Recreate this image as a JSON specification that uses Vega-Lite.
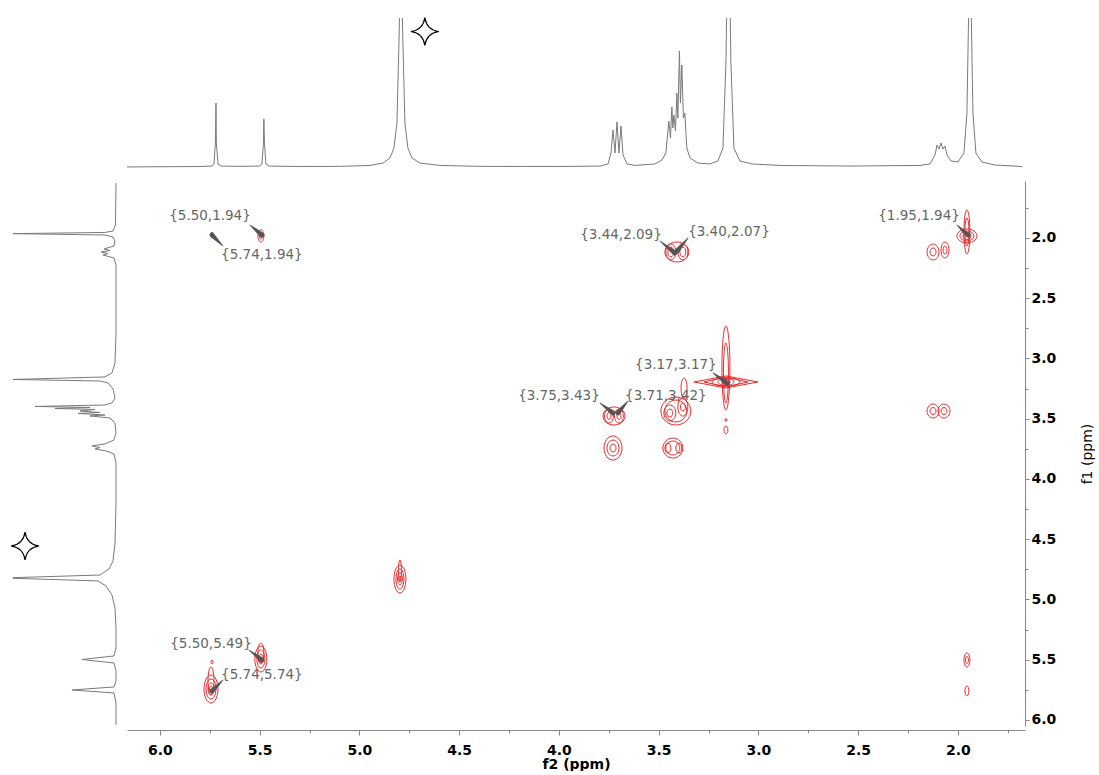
{
  "$schema": "https://vega.github.io/schema/vega-lite/v6.json",
  "background": "white",
  "padding": {"left": 0, "top": 15, "right": 0, "bottom": 0},
  "config": {"view": {"stroke": null}},
  "columns": 2,
  "align": "each",
  "bounds": "flush",
  "spacing": {"row": 13, "column": 10},
  "datasets": {
    "top1d": [
      {"f2": 6.176, "intensity": 0.7}, {"f2": 5.800, "intensity": 1.0},
      {"f2": 5.739, "intensity": 1.3}, {"f2": 5.729, "intensity": 2.7}, {"f2": 5.722, "intensity": 16.7}, {"f2": 5.719, "intensity": 43.3}, {"f2": 5.717, "intensity": 16.7}, {"f2": 5.709, "intensity": 2.7}, {"f2": 5.694, "intensity": 1.3},
      {"f2": 5.600, "intensity": 1.1},
      {"f2": 5.499, "intensity": 1.3}, {"f2": 5.489, "intensity": 2.7}, {"f2": 5.481, "intensity": 16.7}, {"f2": 5.479, "intensity": 32.7}, {"f2": 5.476, "intensity": 16.7}, {"f2": 5.469, "intensity": 2.7}, {"f2": 5.454, "intensity": 1.3},
      {"f2": 5.298, "intensity": 1.0}, {"f2": 5.098, "intensity": 1.1}, {"f2": 4.947, "intensity": 1.7}, {"f2": 4.882, "intensity": 3.3}, {"f2": 4.847, "intensity": 6.7}, {"f2": 4.827, "intensity": 13.3}, {"f2": 4.812, "intensity": 30}, {"f2": 4.802, "intensity": 83}, {"f2": 4.797, "intensity": 115}, {"f2": 4.787, "intensity": 115}, {"f2": 4.782, "intensity": 83}, {"f2": 4.772, "intensity": 30}, {"f2": 4.757, "intensity": 13.3}, {"f2": 4.737, "intensity": 6.7}, {"f2": 4.697, "intensity": 3.3}, {"f2": 4.597, "intensity": 1.7}, {"f2": 4.396, "intensity": 1.1}, {"f2": 3.995, "intensity": 1.0},
      {"f2": 3.794, "intensity": 1.3}, {"f2": 3.754, "intensity": 2.7}, {"f2": 3.739, "intensity": 10}, {"f2": 3.729, "intensity": 25.3}, {"f2": 3.719, "intensity": 10}, {"f2": 3.709, "intensity": 30.7}, {"f2": 3.699, "intensity": 10}, {"f2": 3.689, "intensity": 28}, {"f2": 3.679, "intensity": 8.7}, {"f2": 3.659, "intensity": 2.7}, {"f2": 3.619, "intensity": 1.7}, {"f2": 3.519, "intensity": 2.7},
      {"f2": 3.484, "intensity": 5.3}, {"f2": 3.464, "intensity": 10}, {"f2": 3.449, "intensity": 31.3}, {"f2": 3.441, "intensity": 20}, {"f2": 3.434, "intensity": 40.7}, {"f2": 3.429, "intensity": 26.7}, {"f2": 3.424, "intensity": 35.3}, {"f2": 3.416, "intensity": 24.7}, {"f2": 3.409, "intensity": 50}, {"f2": 3.404, "intensity": 33.3}, {"f2": 3.396, "intensity": 78}, {"f2": 3.391, "intensity": 43.3}, {"f2": 3.384, "intensity": 68.7}, {"f2": 3.376, "intensity": 33.3}, {"f2": 3.369, "intensity": 36.7}, {"f2": 3.359, "intensity": 13.3}, {"f2": 3.343, "intensity": 6.7}, {"f2": 3.303, "intensity": 3.3}, {"f2": 3.243, "intensity": 2.7}, {"f2": 3.203, "intensity": 4.7}, {"f2": 3.178, "intensity": 13.3}, {"f2": 3.163, "intensity": 70}, {"f2": 3.158, "intensity": 115}, {"f2": 3.143, "intensity": 115}, {"f2": 3.138, "intensity": 70}, {"f2": 3.123, "intensity": 13.3}, {"f2": 3.093, "intensity": 4.7}, {"f2": 3.033, "intensity": 2.7}, {"f2": 2.892, "intensity": 1.7}, {"f2": 2.541, "intensity": 1.3}, {"f2": 2.190, "intensity": 1.7},
      {"f2": 2.140, "intensity": 2.7}, {"f2": 2.115, "intensity": 8.7}, {"f2": 2.105, "intensity": 15.3}, {"f2": 2.095, "intensity": 12.7}, {"f2": 2.085, "intensity": 16.7}, {"f2": 2.075, "intensity": 12.7}, {"f2": 2.065, "intensity": 14.7}, {"f2": 2.055, "intensity": 8.7}, {"f2": 2.035, "intensity": 4.7}, {"f2": 2.000, "intensity": 4}, {"f2": 1.970, "intensity": 10}, {"f2": 1.955, "intensity": 36.7}, {"f2": 1.945, "intensity": 115}, {"f2": 1.935, "intensity": 115}, {"f2": 1.925, "intensity": 36.7}, {"f2": 1.910, "intensity": 10}, {"f2": 1.880, "intensity": 4}, {"f2": 1.815, "intensity": 2}, {"f2": 1.679, "intensity": 1}
    ],
    "left1d": [
      {"f1": 1.544, "intensity": 0.85}, {"f1": 1.892, "intensity": 1.3}, {"f1": 1.942, "intensity": 3.4}, {"f1": 1.954, "intensity": 10.3}, {"f1": 1.964, "intensity": 88.9}, {"f1": 1.975, "intensity": 10.3}, {"f1": 1.992, "intensity": 3.4}, {"f1": 2.025, "intensity": 1.7},
      {"f1": 2.066, "intensity": 2.6}, {"f1": 2.091, "intensity": 11.1}, {"f1": 2.104, "intensity": 6}, {"f1": 2.116, "intensity": 13.7}, {"f1": 2.129, "intensity": 7.7}, {"f1": 2.141, "intensity": 12}, {"f1": 2.166, "intensity": 2.6}, {"f1": 2.224, "intensity": 0.85},
      {"f1": 2.788, "intensity": 0.85}, {"f1": 3.037, "intensity": 1.7}, {"f1": 3.120, "intensity": 4.3}, {"f1": 3.153, "intensity": 10.3}, {"f1": 3.174, "intensity": 88.9}, {"f1": 3.187, "intensity": 14.5}, {"f1": 3.203, "intensity": 7.7}, {"f1": 3.253, "intensity": 3.4}, {"f1": 3.328, "intensity": 1.7},
      {"f1": 3.369, "intensity": 4.3}, {"f1": 3.386, "intensity": 10.3}, {"f1": 3.398, "intensity": 70}, {"f1": 3.407, "intensity": 23}, {"f1": 3.415, "intensity": 53}, {"f1": 3.423, "intensity": 18.8}, {"f1": 3.436, "intensity": 31.6}, {"f1": 3.448, "intensity": 14.5}, {"f1": 3.456, "intensity": 33.3}, {"f1": 3.469, "intensity": 10.3}, {"f1": 3.477, "intensity": 23}, {"f1": 3.494, "intensity": 6}, {"f1": 3.535, "intensity": 1.7},
      {"f1": 3.618, "intensity": 0.85}, {"f1": 3.676, "intensity": 2.6}, {"f1": 3.709, "intensity": 10.3}, {"f1": 3.726, "intensity": 21.4}, {"f1": 3.739, "intensity": 14.5}, {"f1": 3.751, "intensity": 18.8}, {"f1": 3.767, "intensity": 9.4}, {"f1": 3.792, "intensity": 2.6}, {"f1": 3.867, "intensity": 0.85},
      {"f1": 4.199, "intensity": 0.85}, {"f1": 4.531, "intensity": 1.7}, {"f1": 4.680, "intensity": 3.4}, {"f1": 4.747, "intensity": 6.8}, {"f1": 4.797, "intensity": 14.5}, {"f1": 4.819, "intensity": 88.9}, {"f1": 4.824, "intensity": 88.9}, {"f1": 4.846, "intensity": 16.2}, {"f1": 4.888, "intensity": 9.4}, {"f1": 4.963, "intensity": 4.3}, {"f1": 5.071, "intensity": 1.7}, {"f1": 5.236, "intensity": 0.85},
      {"f1": 5.402, "intensity": 0.85}, {"f1": 5.469, "intensity": 2.6}, {"f1": 5.498, "intensity": 30}, {"f1": 5.527, "intensity": 2.6}, {"f1": 5.593, "intensity": 0.85},
      {"f1": 5.676, "intensity": 0.85}, {"f1": 5.726, "intensity": 2.6}, {"f1": 5.751, "intensity": 38.5}, {"f1": 5.776, "intensity": 2.6}, {"f1": 5.859, "intensity": 0.85}, {"f1": 6.041, "intensity": 0.85}
    ],
    "contours": [
      {"ring": "r1a", "v": 0, "f2": 5.744, "f1": 5.627}, {"ring": "r1a", "v": 1, "f2": 5.709, "f1": 5.743}, {"ring": "r1a", "v": 2, "f2": 5.744, "f1": 5.859}, {"ring": "r1a", "v": 3, "f2": 5.779, "f1": 5.743},
      {"ring": "r1b", "v": 0, "f2": 5.744, "f1": 5.660}, {"ring": "r1b", "v": 1, "f2": 5.719, "f1": 5.743}, {"ring": "r1b", "v": 2, "f2": 5.744, "f1": 5.826}, {"ring": "r1b", "v": 3, "f2": 5.769, "f1": 5.743},
      {"ring": "r1c", "v": 0, "f2": 5.744, "f1": 5.693}, {"ring": "r1c", "v": 1, "f2": 5.729, "f1": 5.743}, {"ring": "r1c", "v": 2, "f2": 5.744, "f1": 5.793}, {"ring": "r1c", "v": 3, "f2": 5.759, "f1": 5.743},
      {"ring": "r1d", "v": 0, "f2": 5.744, "f1": 5.718}, {"ring": "r1d", "v": 1, "f2": 5.7365, "f1": 5.743}, {"ring": "r1d", "v": 2, "f2": 5.744, "f1": 5.768}, {"ring": "r1d", "v": 3, "f2": 5.7515, "f1": 5.743},
      {"ring": "r1t", "v": 0, "f2": 5.744, "f1": 5.560}, {"ring": "r1t", "v": 1, "f2": 5.729, "f1": 5.676}, {"ring": "r1t", "v": 2, "f2": 5.744, "f1": 5.792}, {"ring": "r1t", "v": 3, "f2": 5.759, "f1": 5.676},
      {"ring": "r1s", "v": 0, "f2": 5.739, "f1": 5.502}, {"ring": "r1s", "v": 1, "f2": 5.734, "f1": 5.519}, {"ring": "r1s", "v": 2, "f2": 5.739, "f1": 5.536}, {"ring": "r1s", "v": 3, "f2": 5.744, "f1": 5.519},
      {"ring": "r2a", "v": 0, "f2": 5.494, "f1": 5.386}, {"ring": "r2a", "v": 1, "f2": 5.464, "f1": 5.494}, {"ring": "r2a", "v": 2, "f2": 5.494, "f1": 5.602}, {"ring": "r2a", "v": 3, "f2": 5.524, "f1": 5.494},
      {"ring": "r2b", "v": 0, "f2": 5.494, "f1": 5.419}, {"ring": "r2b", "v": 1, "f2": 5.474, "f1": 5.494}, {"ring": "r2b", "v": 2, "f2": 5.494, "f1": 5.569}, {"ring": "r2b", "v": 3, "f2": 5.514, "f1": 5.494},
      {"ring": "r2c", "v": 0, "f2": 5.494, "f1": 5.453}, {"ring": "r2c", "v": 1, "f2": 5.4815, "f1": 5.494}, {"ring": "r2c", "v": 2, "f2": 5.494, "f1": 5.535}, {"ring": "r2c", "v": 3, "f2": 5.5065, "f1": 5.494},
      {"ring": "r2d", "v": 0, "f2": 5.494, "f1": 5.477}, {"ring": "r2d", "v": 1, "f2": 5.489, "f1": 5.494}, {"ring": "r2d", "v": 2, "f2": 5.494, "f1": 5.511}, {"ring": "r2d", "v": 3, "f2": 5.499, "f1": 5.494},
      {"ring": "r2t", "v": 0, "f2": 5.494, "f1": 5.361}, {"ring": "r2t", "v": 1, "f2": 5.479, "f1": 5.444}, {"ring": "r2t", "v": 2, "f2": 5.494, "f1": 5.527}, {"ring": "r2t", "v": 3, "f2": 5.509, "f1": 5.444},
      {"ring": "r3a", "v": 0, "f2": 4.797, "f1": 4.714}, {"ring": "r3a", "v": 1, "f2": 4.767, "f1": 4.830}, {"ring": "r3a", "v": 2, "f2": 4.797, "f1": 4.946}, {"ring": "r3a", "v": 3, "f2": 4.827, "f1": 4.830},
      {"ring": "r3b", "v": 0, "f2": 4.797, "f1": 4.747}, {"ring": "r3b", "v": 1, "f2": 4.777, "f1": 4.830}, {"ring": "r3b", "v": 2, "f2": 4.797, "f1": 4.913}, {"ring": "r3b", "v": 3, "f2": 4.817, "f1": 4.830},
      {"ring": "r3c", "v": 0, "f2": 4.797, "f1": 4.780}, {"ring": "r3c", "v": 1, "f2": 4.7845, "f1": 4.830}, {"ring": "r3c", "v": 2, "f2": 4.797, "f1": 4.880}, {"ring": "r3c", "v": 3, "f2": 4.8095, "f1": 4.830},
      {"ring": "r3d", "v": 0, "f2": 4.797, "f1": 4.805}, {"ring": "r3d", "v": 1, "f2": 4.792, "f1": 4.830}, {"ring": "r3d", "v": 2, "f2": 4.797, "f1": 4.855}, {"ring": "r3d", "v": 3, "f2": 4.802, "f1": 4.830},
      {"ring": "r3t", "v": 0, "f2": 4.797, "f1": 4.672}, {"ring": "r3t", "v": 1, "f2": 4.7895, "f1": 4.7635}, {"ring": "r3t", "v": 2, "f2": 4.797, "f1": 4.855}, {"ring": "r3t", "v": 3, "f2": 4.8045, "f1": 4.7635},
      {"ring": "r4a", "v": 0, "f2": 5.494, "f1": 1.933}, {"ring": "r4a", "v": 1, "f2": 5.479, "f1": 1.983}, {"ring": "r4a", "v": 2, "f2": 5.494, "f1": 2.033}, {"ring": "r4a", "v": 3, "f2": 5.509, "f1": 1.983},
      {"ring": "r4b", "v": 0, "f2": 5.494, "f1": 1.958}, {"ring": "r4b", "v": 1, "f2": 5.4865, "f1": 1.983}, {"ring": "r4b", "v": 2, "f2": 5.494, "f1": 2.008}, {"ring": "r4b", "v": 3, "f2": 5.5015, "f1": 1.983},
      {"ring": "r5a", "v": 0, "f2": 5.739, "f1": 1.950}, {"ring": "r5a", "v": 1, "f2": 5.734, "f1": 1.975}, {"ring": "r5a", "v": 2, "f2": 5.739, "f1": 2.000}, {"ring": "r5a", "v": 3, "f2": 5.744, "f1": 1.975},
      {"ring": "r6o", "v": 0, "f2": 3.409, "f1": 2.033}, {"ring": "r6o", "v": 1, "f2": 3.349, "f1": 2.116}, {"ring": "r6o", "v": 2, "f2": 3.409, "f1": 2.199}, {"ring": "r6o", "v": 3, "f2": 3.469, "f1": 2.116},
      {"ring": "r6la", "v": 0, "f2": 3.439, "f1": 2.050}, {"ring": "r6la", "v": 1, "f2": 3.414, "f1": 2.116}, {"ring": "r6la", "v": 2, "f2": 3.439, "f1": 2.182}, {"ring": "r6la", "v": 3, "f2": 3.464, "f1": 2.116},
      {"ring": "r6lb", "v": 0, "f2": 3.439, "f1": 2.075}, {"ring": "r6lb", "v": 1, "f2": 3.424, "f1": 2.116}, {"ring": "r6lb", "v": 2, "f2": 3.439, "f1": 2.157}, {"ring": "r6lb", "v": 3, "f2": 3.454, "f1": 2.116},
      {"ring": "r6ra", "v": 0, "f2": 3.379, "f1": 2.050}, {"ring": "r6ra", "v": 1, "f2": 3.354, "f1": 2.116}, {"ring": "r6ra", "v": 2, "f2": 3.379, "f1": 2.182}, {"ring": "r6ra", "v": 3, "f2": 3.404, "f1": 2.116},
      {"ring": "r6rb", "v": 0, "f2": 3.379, "f1": 2.075}, {"ring": "r6rb", "v": 1, "f2": 3.364, "f1": 2.116}, {"ring": "r6rb", "v": 2, "f2": 3.379, "f1": 2.157}, {"ring": "r6rb", "v": 3, "f2": 3.394, "f1": 2.116},
      {"ring": "r7a", "v": 0, "f2": 1.955, "f1": 1.925}, {"ring": "r7a", "v": 1, "f2": 1.905, "f1": 1.983}, {"ring": "r7a", "v": 2, "f2": 1.955, "f1": 2.041}, {"ring": "r7a", "v": 3, "f2": 2.005, "f1": 1.983},
      {"ring": "r7b", "v": 0, "f2": 1.955, "f1": 1.942}, {"ring": "r7b", "v": 1, "f2": 1.920, "f1": 1.983}, {"ring": "r7b", "v": 2, "f2": 1.955, "f1": 2.024}, {"ring": "r7b", "v": 3, "f2": 1.990, "f1": 1.983},
      {"ring": "r7c", "v": 0, "f2": 1.955, "f1": 1.954}, {"ring": "r7c", "v": 1, "f2": 1.935, "f1": 1.983}, {"ring": "r7c", "v": 2, "f2": 1.955, "f1": 2.012}, {"ring": "r7c", "v": 3, "f2": 1.975, "f1": 1.983},
      {"ring": "r7s", "v": 0, "f2": 1.955, "f1": 1.767}, {"ring": "r7s", "v": 1, "f2": 1.940, "f1": 1.950}, {"ring": "r7s", "v": 2, "f2": 1.955, "f1": 2.133}, {"ring": "r7s", "v": 3, "f2": 1.970, "f1": 1.950},
      {"ring": "r7t", "v": 0, "f2": 1.955, "f1": 1.834}, {"ring": "r7t", "v": 1, "f2": 1.945, "f1": 1.950}, {"ring": "r7t", "v": 2, "f2": 1.955, "f1": 2.066}, {"ring": "r7t", "v": 3, "f2": 1.965, "f1": 1.950},
      {"ring": "r8la", "v": 0, "f2": 2.125, "f1": 2.050}, {"ring": "r8la", "v": 1, "f2": 2.095, "f1": 2.116}, {"ring": "r8la", "v": 2, "f2": 2.125, "f1": 2.182}, {"ring": "r8la", "v": 3, "f2": 2.155, "f1": 2.116},
      {"ring": "r8lb", "v": 0, "f2": 2.125, "f1": 2.083}, {"ring": "r8lb", "v": 1, "f2": 2.110, "f1": 2.116}, {"ring": "r8lb", "v": 2, "f2": 2.125, "f1": 2.149}, {"ring": "r8lb", "v": 3, "f2": 2.140, "f1": 2.116},
      {"ring": "r8ra", "v": 0, "f2": 2.065, "f1": 2.034}, {"ring": "r8ra", "v": 1, "f2": 2.045, "f1": 2.100}, {"ring": "r8ra", "v": 2, "f2": 2.065, "f1": 2.166}, {"ring": "r8ra", "v": 3, "f2": 2.085, "f1": 2.100},
      {"ring": "r8rb", "v": 0, "f2": 2.065, "f1": 2.067}, {"ring": "r8rb", "v": 1, "f2": 2.055, "f1": 2.100}, {"ring": "r8rb", "v": 2, "f2": 2.065, "f1": 2.133}, {"ring": "r8rb", "v": 3, "f2": 2.075, "f1": 2.100},
      {"ring": "r9c", "v": 0, "f2": 3.163, "f1": 3.162}, {"ring": "r9c", "v": 1, "f2": 3.093, "f1": 3.195}, {"ring": "r9c", "v": 2, "f2": 3.163, "f1": 3.228}, {"ring": "r9c", "v": 3, "f2": 3.233, "f1": 3.195},
      {"ring": "r9d", "v": 0, "f2": 3.163, "f1": 3.166}, {"ring": "r9d", "v": 1, "f2": 3.123, "f1": 3.195}, {"ring": "r9d", "v": 2, "f2": 3.163, "f1": 3.224}, {"ring": "r9d", "v": 3, "f2": 3.203, "f1": 3.195},
      {"ring": "r9e", "v": 0, "f2": 3.163, "f1": 3.174}, {"ring": "r9e", "v": 1, "f2": 3.143, "f1": 3.195}, {"ring": "r9e", "v": 2, "f2": 3.163, "f1": 3.216}, {"ring": "r9e", "v": 3, "f2": 3.183, "f1": 3.195},
      {"ring": "r9v1", "v": 0, "f2": 3.163, "f1": 2.730}, {"ring": "r9v1", "v": 1, "f2": 3.143, "f1": 3.079}, {"ring": "r9v1", "v": 2, "f2": 3.163, "f1": 3.428}, {"ring": "r9v1", "v": 3, "f2": 3.183, "f1": 3.079},
      {"ring": "r9v2", "v": 0, "f2": 3.163, "f1": 2.871}, {"ring": "r9v2", "v": 1, "f2": 3.1505, "f1": 3.120}, {"ring": "r9v2", "v": 2, "f2": 3.163, "f1": 3.369}, {"ring": "r9v2", "v": 3, "f2": 3.1755, "f1": 3.120},
      {"ring": "r9p", "v": 0, "f2": 3.163, "f1": 3.498}, {"ring": "r9p", "v": 1, "f2": 3.158, "f1": 3.510}, {"ring": "r9p", "v": 2, "f2": 3.163, "f1": 3.522}, {"ring": "r9p", "v": 3, "f2": 3.168, "f1": 3.510},
      {"ring": "r9q", "v": 0, "f2": 3.163, "f1": 3.560}, {"ring": "r9q", "v": 1, "f2": 3.153, "f1": 3.593}, {"ring": "r9q", "v": 2, "f2": 3.163, "f1": 3.626}, {"ring": "r9q", "v": 3, "f2": 3.173, "f1": 3.593},
      {"ring": "r10o", "v": 0, "f2": 3.724, "f1": 3.402}, {"ring": "r10o", "v": 1, "f2": 3.669, "f1": 3.477}, {"ring": "r10o", "v": 2, "f2": 3.724, "f1": 3.552}, {"ring": "r10o", "v": 3, "f2": 3.779, "f1": 3.477},
      {"ring": "r10la", "v": 0, "f2": 3.749, "f1": 3.419}, {"ring": "r10la", "v": 1, "f2": 3.727, "f1": 3.477}, {"ring": "r10la", "v": 2, "f2": 3.749, "f1": 3.535}, {"ring": "r10la", "v": 3, "f2": 3.772, "f1": 3.477},
      {"ring": "r10lb", "v": 0, "f2": 3.749, "f1": 3.448}, {"ring": "r10lb", "v": 1, "f2": 3.739, "f1": 3.477}, {"ring": "r10lb", "v": 2, "f2": 3.749, "f1": 3.506}, {"ring": "r10lb", "v": 3, "f2": 3.759, "f1": 3.477},
      {"ring": "r10ra", "v": 0, "f2": 3.699, "f1": 3.419}, {"ring": "r10ra", "v": 1, "f2": 3.677, "f1": 3.477}, {"ring": "r10ra", "v": 2, "f2": 3.699, "f1": 3.535}, {"ring": "r10ra", "v": 3, "f2": 3.722, "f1": 3.477},
      {"ring": "r10rb", "v": 0, "f2": 3.699, "f1": 3.448}, {"ring": "r10rb", "v": 1, "f2": 3.689, "f1": 3.477}, {"ring": "r10rb", "v": 2, "f2": 3.699, "f1": 3.506}, {"ring": "r10rb", "v": 3, "f2": 3.709, "f1": 3.477},
      {"ring": "r11o", "v": 0, "f2": 3.414, "f1": 3.320}, {"ring": "r11o", "v": 1, "f2": 3.339, "f1": 3.436}, {"ring": "r11o", "v": 2, "f2": 3.414, "f1": 3.552}, {"ring": "r11o", "v": 3, "f2": 3.489, "f1": 3.436},
      {"ring": "r11a", "v": 0, "f2": 3.414, "f1": 3.345}, {"ring": "r11a", "v": 1, "f2": 3.359, "f1": 3.436}, {"ring": "r11a", "v": 2, "f2": 3.414, "f1": 3.527}, {"ring": "r11a", "v": 3, "f2": 3.469, "f1": 3.436},
      {"ring": "r11la", "v": 0, "f2": 3.444, "f1": 3.386}, {"ring": "r11la", "v": 1, "f2": 3.414, "f1": 3.452}, {"ring": "r11la", "v": 2, "f2": 3.444, "f1": 3.518}, {"ring": "r11la", "v": 3, "f2": 3.474, "f1": 3.452},
      {"ring": "r11lb", "v": 0, "f2": 3.444, "f1": 3.419}, {"ring": "r11lb", "v": 1, "f2": 3.429, "f1": 3.452}, {"ring": "r11lb", "v": 2, "f2": 3.444, "f1": 3.485}, {"ring": "r11lb", "v": 3, "f2": 3.459, "f1": 3.452},
      {"ring": "r11ra", "v": 0, "f2": 3.379, "f1": 3.328}, {"ring": "r11ra", "v": 1, "f2": 3.354, "f1": 3.403}, {"ring": "r11ra", "v": 2, "f2": 3.379, "f1": 3.478}, {"ring": "r11ra", "v": 3, "f2": 3.404, "f1": 3.403},
      {"ring": "r11rb", "v": 0, "f2": 3.379, "f1": 3.370}, {"ring": "r11rb", "v": 1, "f2": 3.366, "f1": 3.403}, {"ring": "r11rb", "v": 2, "f2": 3.379, "f1": 3.436}, {"ring": "r11rb", "v": 3, "f2": 3.391, "f1": 3.403},
      {"ring": "r11u", "v": 0, "f2": 3.373, "f1": 3.162}, {"ring": "r11u", "v": 1, "f2": 3.358, "f1": 3.245}, {"ring": "r11u", "v": 2, "f2": 3.373, "f1": 3.328}, {"ring": "r11u", "v": 3, "f2": 3.388, "f1": 3.245},
      {"ring": "r12a", "v": 0, "f2": 3.729, "f1": 3.643}, {"ring": "r12a", "v": 1, "f2": 3.684, "f1": 3.743}, {"ring": "r12a", "v": 2, "f2": 3.729, "f1": 3.843}, {"ring": "r12a", "v": 3, "f2": 3.774, "f1": 3.743},
      {"ring": "r12b", "v": 0, "f2": 3.729, "f1": 3.677}, {"ring": "r12b", "v": 1, "f2": 3.699, "f1": 3.743}, {"ring": "r12b", "v": 2, "f2": 3.729, "f1": 3.809}, {"ring": "r12b", "v": 3, "f2": 3.759, "f1": 3.743},
      {"ring": "r12c", "v": 0, "f2": 3.729, "f1": 3.710}, {"ring": "r12c", "v": 1, "f2": 3.714, "f1": 3.743}, {"ring": "r12c", "v": 2, "f2": 3.729, "f1": 3.776}, {"ring": "r12c", "v": 3, "f2": 3.744, "f1": 3.743},
      {"ring": "r13a", "v": 0, "f2": 3.429, "f1": 3.660}, {"ring": "r13a", "v": 1, "f2": 3.379, "f1": 3.743}, {"ring": "r13a", "v": 2, "f2": 3.429, "f1": 3.826}, {"ring": "r13a", "v": 3, "f2": 3.479, "f1": 3.743},
      {"ring": "r13b", "v": 0, "f2": 3.429, "f1": 3.685}, {"ring": "r13b", "v": 1, "f2": 3.394, "f1": 3.743}, {"ring": "r13b", "v": 2, "f2": 3.429, "f1": 3.801}, {"ring": "r13b", "v": 3, "f2": 3.464, "f1": 3.743},
      {"ring": "r13l", "v": 0, "f2": 3.454, "f1": 3.702}, {"ring": "r13l", "v": 1, "f2": 3.439, "f1": 3.743}, {"ring": "r13l", "v": 2, "f2": 3.454, "f1": 3.784}, {"ring": "r13l", "v": 3, "f2": 3.469, "f1": 3.743},
      {"ring": "r13r", "v": 0, "f2": 3.399, "f1": 3.702}, {"ring": "r13r", "v": 1, "f2": 3.384, "f1": 3.743}, {"ring": "r13r", "v": 2, "f2": 3.399, "f1": 3.784}, {"ring": "r13r", "v": 3, "f2": 3.414, "f1": 3.743},
      {"ring": "r14la", "v": 0, "f2": 2.125, "f1": 3.378}, {"ring": "r14la", "v": 1, "f2": 2.095, "f1": 3.436}, {"ring": "r14la", "v": 2, "f2": 2.125, "f1": 3.494}, {"ring": "r14la", "v": 3, "f2": 2.155, "f1": 3.436},
      {"ring": "r14lb", "v": 0, "f2": 2.125, "f1": 3.407}, {"ring": "r14lb", "v": 1, "f2": 2.110, "f1": 3.436}, {"ring": "r14lb", "v": 2, "f2": 2.125, "f1": 3.465}, {"ring": "r14lb", "v": 3, "f2": 2.140, "f1": 3.436},
      {"ring": "r14ra", "v": 0, "f2": 2.070, "f1": 3.378}, {"ring": "r14ra", "v": 1, "f2": 2.040, "f1": 3.436}, {"ring": "r14ra", "v": 2, "f2": 2.070, "f1": 3.494}, {"ring": "r14ra", "v": 3, "f2": 2.100, "f1": 3.436},
      {"ring": "r14rb", "v": 0, "f2": 2.070, "f1": 3.407}, {"ring": "r14rb", "v": 1, "f2": 2.055, "f1": 3.436}, {"ring": "r14rb", "v": 2, "f2": 2.070, "f1": 3.465}, {"ring": "r14rb", "v": 3, "f2": 2.085, "f1": 3.436},
      {"ring": "r15a", "v": 0, "f2": 1.955, "f1": 5.444}, {"ring": "r15a", "v": 1, "f2": 1.940, "f1": 5.502}, {"ring": "r15a", "v": 2, "f2": 1.955, "f1": 5.560}, {"ring": "r15a", "v": 3, "f2": 1.970, "f1": 5.502},
      {"ring": "r15b", "v": 0, "f2": 1.955, "f1": 5.473}, {"ring": "r15b", "v": 1, "f2": 1.9475, "f1": 5.502}, {"ring": "r15b", "v": 2, "f2": 1.955, "f1": 5.531}, {"ring": "r15b", "v": 3, "f2": 1.9625, "f1": 5.502},
      {"ring": "r16a", "v": 0, "f2": 1.955, "f1": 5.718}, {"ring": "r16a", "v": 1, "f2": 1.945, "f1": 5.759}, {"ring": "r16a", "v": 2, "f2": 1.955, "f1": 5.800}, {"ring": "r16a", "v": 3, "f2": 1.965, "f1": 5.759}
    ],
    "spikes": [
      {"ring": "s9a", "v": 0, "f2": 3.163, "f1": 3.145}, {"ring": "s9a", "v": 1, "f2": 3.003, "f1": 3.195}, {"ring": "s9a", "v": 2, "f2": 3.163, "f1": 3.245}, {"ring": "s9a", "v": 3, "f2": 3.323, "f1": 3.195},
      {"ring": "s9b", "v": 0, "f2": 3.163, "f1": 3.154}, {"ring": "s9b", "v": 1, "f2": 3.053, "f1": 3.195}, {"ring": "s9b", "v": 2, "f2": 3.163, "f1": 3.236}, {"ring": "s9b", "v": 3, "f2": 3.273, "f1": 3.195}
    ],
    "arrows": [
      {"arrow": "a1", "t": 0, "f2": 5.549, "f1": 1.892}, {"arrow": "a1", "t": 1, "f2": 5.489, "f1": 1.975},
      {"arrow": "a2", "t": 0, "f2": 5.684, "f1": 2.066}, {"arrow": "a2", "t": 1, "f2": 5.739, "f1": 1.975},
      {"arrow": "a3", "t": 0, "f2": 3.494, "f1": 2.025}, {"arrow": "a3", "t": 1, "f2": 3.419, "f1": 2.124},
      {"arrow": "a4", "t": 0, "f2": 3.353, "f1": 2.000}, {"arrow": "a4", "t": 1, "f2": 3.409, "f1": 2.108},
      {"arrow": "a5", "t": 0, "f2": 2.005, "f1": 1.892}, {"arrow": "a5", "t": 1, "f2": 1.950, "f1": 1.975},
      {"arrow": "a6", "t": 0, "f2": 3.228, "f1": 3.120}, {"arrow": "a6", "t": 1, "f2": 3.158, "f1": 3.203},
      {"arrow": "a7", "t": 0, "f2": 3.794, "f1": 3.369}, {"arrow": "a7", "t": 1, "f2": 3.729, "f1": 3.452},
      {"arrow": "a8", "t": 0, "f2": 3.654, "f1": 3.353}, {"arrow": "a8", "t": 1, "f2": 3.704, "f1": 3.452},
      {"arrow": "a9", "t": 0, "f2": 5.554, "f1": 5.419}, {"arrow": "a9", "t": 1, "f2": 5.489, "f1": 5.502},
      {"arrow": "a10", "t": 0, "f2": 5.684, "f1": 5.668}, {"arrow": "a10", "t": 1, "f2": 5.739, "f1": 5.759}
    ],
    "labels": [
      {"label": "{5.50,1.94}", "f2": 5.749, "f1": 1.817},
      {"label": "{5.74,1.94}", "f2": 5.489, "f1": 2.141},
      {"label": "{3.44,2.09}", "f2": 3.689, "f1": 1.975},
      {"label": "{3.40,2.07}", "f2": 3.148, "f1": 1.950},
      {"label": "{1.95,1.94}", "f2": 2.195, "f1": 1.817},
      {"label": "{3.17,3.17}", "f2": 3.414, "f1": 3.054},
      {"label": "{3.75,3.43}", "f2": 4.000, "f1": 3.311},
      {"label": "{3.71,3.42}", "f2": 3.464, "f1": 3.311},
      {"label": "{5.50,5.49}", "f2": 5.744, "f1": 5.369},
      {"label": "{5.74,5.74}", "f2": 5.489, "f1": 5.627}
    ]
  },
  "concat": [
    {
      "width": 117, "height": 150,
      "data": {"values": []},
      "mark": "point"
    },
    {
      "width": 898, "height": 150,
      "encoding": {
        "x": {"field": "f2", "type": "quantitative", "scale": {"domain": [1.664, 6.165], "reverse": true, "nice": false, "zero": false}, "axis": null},
        "y": {"field": "intensity", "type": "quantitative", "scale": {"domain": [0, 100], "nice": false, "zero": false}, "axis": null}
      },
      "layer": [
        {"data": {"name": "top1d"}, "mark": {"type": "line", "color": "#7a7a7a", "strokeWidth": 1, "clip": true}},
        {"data": {"values": [{"f2": 4.672, "intensity": 91}]},
         "mark": {"type": "point", "shape": "M0,-1Q0.12,-0.12,1,0Q0.12,0.12,0,1Q-0.12,0.12,-1,0Q-0.12,-0.12,0,-1Z", "size": 784, "filled": false, "stroke": "#000", "fill": "#fff", "fillOpacity": 1, "strokeWidth": 1.2, "opacity": 1}}
      ]
    },
    {
      "width": 117, "height": 545,
      "encoding": {
        "x": {"field": "intensity", "type": "quantitative", "scale": {"domain": [0, 100], "reverse": true, "nice": false, "zero": false}, "axis": null},
        "y": {"field": "f1", "type": "quantitative", "scale": {"domain": [1.527, 6.05], "reverse": true, "nice": false, "zero": false}, "axis": null}
      },
      "layer": [
        {"data": {"name": "left1d"}, "mark": {"type": "line", "color": "#7a7a7a", "strokeWidth": 1, "clip": true},
         "encoding": {"order": {"field": "f1", "type": "quantitative"}}},
        {"data": {"values": [{"f1": 4.556, "intensity": 78.6}]},
         "mark": {"type": "point", "shape": "M0,-1Q0.12,-0.12,1,0Q0.12,0.12,0,1Q-0.12,0.12,-1,0Q-0.12,-0.12,0,-1Z", "size": 784, "filled": false, "stroke": "#000", "fill": "#fff", "fillOpacity": 1, "strokeWidth": 1.2, "opacity": 1}}
      ]
    },
    {
      "width": 898, "height": 545,
      "encoding": {
        "x": {"field": "f2", "type": "quantitative",
          "scale": {"domain": [1.664, 6.165], "reverse": true, "nice": false, "zero": false},
          "axis": {"title": "f2 (ppm)", "orient": "bottom", "offset": 4,
            "values": [1.75, 2, 2.25, 2.5, 2.75, 3, 3.25, 3.5, 3.75, 4, 4.25, 4.5, 4.75, 5, 5.25, 5.5, 5.75, 6],
            "labelExpr": "datum.value % 0.5 === 0 ? format(datum.value, '.1f') : ''",
            "tickSize": {"condition": {"test": "datum.value % 0.5 !== 0", "value": 3}, "value": 5},
            "grid": false, "domainColor": "#888", "tickColor": "#888",
            "labelFont": "DejaVu Sans", "labelFontSize": 14, "labelFontWeight": "bold", "labelColor": "#000", "labelPadding": 8, "labelOverlap": false, "labelFlush": false,
            "titleFont": "DejaVu Sans", "titleFontSize": 14, "titleFontWeight": "bold", "titleColor": "#000", "titlePadding": 0}},
        "y": {"field": "f1", "type": "quantitative",
          "scale": {"domain": [1.527, 6.05], "reverse": true, "nice": false, "zero": false},
          "axis": {"title": "f1 (ppm)", "orient": "right",
            "values": [1.75, 2, 2.25, 2.5, 2.75, 3, 3.25, 3.5, 3.75, 4, 4.25, 4.5, 4.75, 5, 5.25, 5.5, 5.75, 6],
            "labelExpr": "datum.value % 0.5 === 0 ? format(datum.value, '.1f') : ''",
            "tickSize": {"condition": {"test": "datum.value % 0.5 !== 0", "value": 3}, "value": 4},
            "grid": false, "domainColor": "#888", "tickColor": "#888",
            "labelFont": "DejaVu Sans", "labelFontSize": 14, "labelFontWeight": "bold", "labelColor": "#000", "labelPadding": 2, "labelOverlap": false, "labelFlush": false,
            "titleFont": "DejaVu Sans", "titleFontSize": 14, "titleFontWeight": "normal", "titleColor": "#000", "titleAngle": 270, "titleBaseline": "top", "titlePadding": 25}}
      },
      "layer": [
        {"data": {"name": "contours"},
         "mark": {"type": "line", "interpolate": "cardinal-closed", "tension": -0.65, "color": "#e8292b", "strokeWidth": 1, "clip": true},
         "encoding": {"detail": {"field": "ring", "type": "nominal"}, "order": {"field": "v", "type": "quantitative"}}},
        {"data": {"name": "spikes"},
         "mark": {"type": "line", "interpolate": "linear-closed", "color": "#e8292b", "strokeWidth": 1, "clip": true},
         "encoding": {"detail": {"field": "ring", "type": "nominal"}, "order": {"field": "v", "type": "quantitative"}}},
        {"data": {"name": "arrows"},
         "mark": {"type": "trail", "color": "#555555"},
         "encoding": {"detail": {"field": "arrow", "type": "nominal"},
           "size": {"field": "t", "type": "quantitative", "scale": {"domain": [0, 1], "range": [0.8, 5], "zero": false}, "legend": null}}},
        {"data": {"name": "labels"},
         "mark": {"type": "text", "font": "DejaVu Sans", "fontSize": 13.5, "color": "#666666", "align": "center", "baseline": "middle"},
         "encoding": {"text": {"field": "label", "type": "nominal"}}}
      ]
    }
  ]
}
